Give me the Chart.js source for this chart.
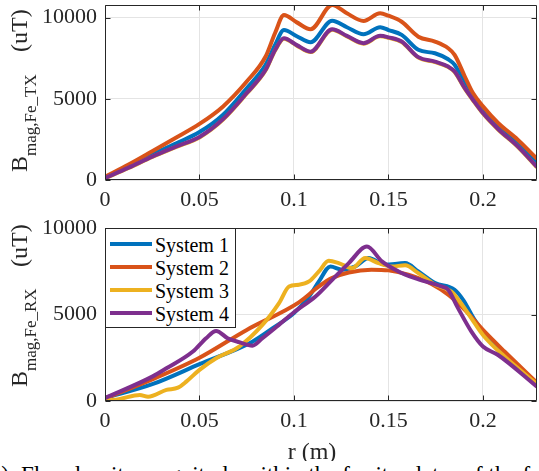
<!DOCTYPE html>
<html>
<head>
<meta charset="utf-8">
<script src="https://cdn.jsdelivr.net/npm/chart.js@4.4.1/dist/chart.umd.min.js"></script>
<style>
html,body{margin:0;padding:0;background:#fff;overflow:hidden;width:539px;height:471px;position:relative;}
#c1{position:absolute;left:0;top:0;}
#c2{position:absolute;left:0;top:215px;}
#cap{position:absolute;left:-18px;top:463px;font-family:'Liberation Serif','Times New Roman',serif;font-size:23px;line-height:23px;white-space:nowrap;color:#000;}
#legend{position:absolute;left:105px;top:228px;width:131px;height:100px;box-sizing:border-box;border:1px solid #262626;background:#fff;font-family:'Liberation Serif','Times New Roman',serif;}
#legend .sw{position:absolute;left:4px;width:42px;height:4px;}
#legend .tx{position:absolute;left:49px;font-size:20px;line-height:20px;white-space:nowrap;color:#000;}
</style>
</head>
<body>
<canvas id="c1" width="539" height="215"></canvas>
<canvas id="c2" width="539" height="246"></canvas>
<div id="legend"></div>
<div id="cap">(b): Flux density magnitude within the ferrite plates of the four systems</div>
<script>
// ---------- DATA ----------
const seriesNames = ["System 1", "System 2", "System 3", "System 4"];
const seriesColors = ["#0072BD", "#D95319", "#EDB120", "#7E2F8E"];
const xTicks = [0, 0.05, 0.1, 0.15, 0.2];
const yTicks = [0, 5000, 10000];
const rMax = 0.2286;

// Top panel: B_mag,Fe_TX (uT)
const rTop = [0, 0.0125, 0.025, 0.0375, 0.05, 0.0625, 0.075, 0.085, 0.09, 0.0947, 0.1015, 0.1088, 0.1202, 0.128, 0.1368, 0.1456, 0.15, 0.157, 0.1658, 0.1746, 0.1816, 0.185, 0.1904, 0.1947, 0.2, 0.208, 0.2184, 0.2286];
const txSys1 = [150, 830, 1560, 2250, 2950, 4020, 5650, 7090, 8310, 9230, 8850, 8480, 9800, 9400, 8970, 9400, 9230, 8930, 8010, 7800, 7430, 7090, 5960, 5140, 4330, 3300, 2280, 1000];
const txSys2 = [200, 950, 1770, 2600, 3450, 4530, 6060, 7600, 9050, 10150, 9700, 9280, 10770, 10260, 9790, 10260, 10110, 9740, 8820, 8520, 8110, 7700, 6370, 5350, 4530, 3510, 2480, 1300];
const txSys3 = [110, 740, 1420, 2020, 2620, 3720, 5320, 6750, 7970, 8690, 8270, 7870, 9250, 8840, 8390, 8840, 8750, 8490, 7530, 7260, 6950, 6650, 5620, 4910, 4090, 3110, 2040, 780];
const txSys4 = [120, 760, 1440, 2050, 2650, 3750, 5350, 6780, 8000, 8720, 8300, 7900, 9280, 8870, 8420, 8870, 8780, 8520, 7560, 7290, 6980, 6680, 5650, 4940, 4120, 3140, 2070, 800];

// Bottom panel: B_mag,Fe_RX (uT)
const rRx1 = [0, 0.025, 0.05, 0.078, 0.09, 0.1, 0.108, 0.1132, 0.1193, 0.1254, 0.1325, 0.1395, 0.1482, 0.1588, 0.1658, 0.1747, 0.185, 0.1895, 0.1956, 0.2, 0.2114, 0.2286];
const rxSys1 = [170, 970, 2130, 3430, 4300, 5080, 6040, 6910, 7780, 7590, 7780, 8260, 7880, 7970, 7490, 6820, 6430, 5850, 4690, 4010, 2660, 930];
const rRx2 = [0, 0.025, 0.05, 0.075, 0.1026, 0.1132, 0.12, 0.129, 0.141, 0.15, 0.1605, 0.1728, 0.1816, 0.1904, 0.2, 0.2114, 0.2286];
const rxSys2 = [150, 1250, 2500, 4110, 5700, 6620, 7100, 7430, 7590, 7550, 7300, 6760, 6140, 5270, 4110, 2860, 1050];
const rRx3 = [0, 0.0079, 0.0184, 0.0228, 0.0325, 0.0386, 0.043, 0.05, 0.0588, 0.071, 0.0833, 0.0921, 0.0974, 0.1026, 0.108, 0.1132, 0.1184, 0.1237, 0.1307, 0.1377, 0.1447, 0.1518, 0.1588, 0.1658, 0.1747, 0.1833, 0.1877, 0.1956, 0.2, 0.2114, 0.2286];
const rxSys3 = [0, 120, 350, 250, 640, 770, 1120, 1800, 2470, 3150, 4400, 5660, 6620, 6720, 6910, 7490, 8100, 7970, 7680, 8260, 7970, 7780, 7840, 7390, 6720, 6330, 5750, 4500, 3820, 2570, 970];
const rRx4 = [0, 0.025, 0.0325, 0.0465, 0.0535, 0.0588, 0.0649, 0.071, 0.078, 0.0833, 0.092, 0.1, 0.1114, 0.1202, 0.129, 0.1386, 0.1465, 0.1553, 0.164, 0.178, 0.1816, 0.1868, 0.1939, 0.2, 0.208, 0.2286];
const rxSys4 = [170, 1410, 1890, 2860, 3630, 4050, 3630, 3400, 3200, 3630, 4400, 5130, 6040, 7000, 7970, 8930, 8070, 7490, 7100, 6620, 6430, 5370, 4010, 3150, 2660, 830];

// ---------- HELPERS ----------
const SERIF = "'Liberation Serif','Times New Roman',serif";
const AXC = "#262626";
function pts(xs, ys){ return xs.map((x,i)=>({x:x, y:ys[i]})); }
function makeDatasets(pairs){
  return pairs.map((p,i)=>({
    label: seriesNames[i], data: pts(p[0], p[1]),
    borderColor: seriesColors[i], backgroundColor: seriesColors[i],
    borderWidth: 4, pointRadius: 0, fill: false,
    cubicInterpolationMode: 'monotone', order: 3 - i
  }));
}

const framePlugin = {
  id: 'frame',
  afterDatasetsDraw(chart){
    const {ctx, chartArea:a, scales:{x, y}} = chart;
    ctx.save();
    ctx.strokeStyle = AXC; ctx.lineWidth = 1;
    const L = Math.round(a.left)+0.5, R = Math.round(a.right)-0.5, T = Math.round(a.top)+0.5, B = Math.round(a.bottom)-0.5;
    ctx.beginPath();
    ctx.moveTo(L, T); ctx.lineTo(R, T); ctx.lineTo(R, B); ctx.lineTo(L, B); ctx.closePath();
    x.ticks.forEach(t=>{
      const px = Math.round(x.getPixelForValue(t.value))+0.5;
      ctx.moveTo(px, B); ctx.lineTo(px, B-5);
      ctx.moveTo(px, T); ctx.lineTo(px, T+5);
    });
    y.ticks.forEach(t=>{
      const py = Math.round(y.getPixelForValue(t.value))+0.5;
      ctx.moveTo(L, py); ctx.lineTo(L+5, py);
      ctx.moveTo(R, py); ctx.lineTo(R-5, py);
    });
    ctx.stroke();
    ctx.restore();
  }
};

function drawYLabel(ctx, x, yStart, sub){
  ctx.save();
  ctx.translate(x, yStart); ctx.rotate(-Math.PI/2);
  ctx.fillStyle = AXC; ctx.textAlign = 'left'; ctx.textBaseline = 'alphabetic';
  ctx.font = "24px " + SERIF; ctx.fillText('B', 0, 0);
  const w = ctx.measureText('B').width;
  ctx.font = "17px " + SERIF; ctx.fillText(sub, w, 9);
  ctx.font = "24px " + SERIF; ctx.fillText('(uT)', 120, 0);
  ctx.restore();
}

function baseOptions(padTop, xHeight, yMax){
  return {
    responsive: false, animation: false, devicePixelRatio: 1,
    layout: {padding: {top: padTop, right: 2, left: 0, bottom: 0}},
    plugins: {legend: {display: false}, tooltip: {enabled: false}, title: {display: false}},
    scales: {
      x: {
        type: 'linear', min: 0, max: rMax,
        afterBuildTicks: s => { s.ticks = xTicks.map(v => ({value: v})); },
        afterFit: s => { s.height = xHeight; s.paddingLeft = 0; s.paddingRight = 0; },
        grid: {color: '#e4e4e4', lineWidth: 1, drawTicks: false},
        border: {display: false},
        ticks: {padding: 7, color: AXC, font: {family: SERIF, size: 22}, maxRotation: 0, autoSkip: false, callback: v => String(v)}
      },
      y: {
        type: 'linear', min: 0, max: yMax,
        afterBuildTicks: s => { s.ticks = yTicks.map(v => ({value: v})); },
        afterFit: s => { s.width = 105; s.paddingTop = 0; s.paddingBottom = 0; },
        grid: {color: '#e4e4e4', lineWidth: 1, drawTicks: false},
        border: {display: false},
        ticks: {padding: 8, color: AXC, font: {family: SERIF, size: 22}, callback: v => String(v)}
      }
    }
  };
}

// ---------- TOP CHART ----------
new Chart(document.getElementById('c1').getContext('2d'), {
  type: 'line',
  data: {datasets: makeDatasets([[rTop, txSys1], [rTop, txSys2], [rTop, txSys3], [rTop, txSys4]])},
  options: baseOptions(5, 35, 10770),
  plugins: [framePlugin, { id: 'ylab1', afterDraw(chart){ drawYLabel(chart.ctx, 27, 172, 'mag,Fe_TX'); } }]
});

// ---------- BOTTOM CHART ----------
const bottomChart = new Chart(document.getElementById('c2').getContext('2d'), {
  type: 'line',
  data: {datasets: makeDatasets([[rRx1, rxSys1], [rRx2, rxSys2], [rRx3, rxSys3], [rRx4, rxSys4]])},
  options: baseOptions(13, 60, 10000),
  plugins: [framePlugin, {
    id: 'extras2',
    afterDraw(chart){
      const ctx = chart.ctx;
      drawYLabel(ctx, 27, 172, 'mag,Fe_RX');
      ctx.save();
      ctx.font = "24px " + SERIF; ctx.textAlign = 'center'; ctx.textBaseline = 'alphabetic';
      ctx.fillStyle = AXC; ctx.fillText('r (m)', 312, 244);
      ctx.restore();
    }
  }]
});

// ---------- LEGEND (built from the chart's datasets) ----------
const rowCenters = [15.3, 37.7, 61, 84.3];
const legendEl = document.getElementById('legend');
bottomChart.data.datasets.forEach((ds, i) => {
  const sw = document.createElement('div');
  sw.className = 'sw';
  sw.style.background = ds.borderColor;
  sw.style.top = (rowCenters[i] - 2) + 'px';
  legendEl.appendChild(sw);
  const tx = document.createElement('div');
  tx.className = 'tx';
  tx.textContent = ds.label;
  tx.style.top = (rowCenters[i] - 9) + 'px';
  legendEl.appendChild(tx);
});
</script>
</body>
</html>
